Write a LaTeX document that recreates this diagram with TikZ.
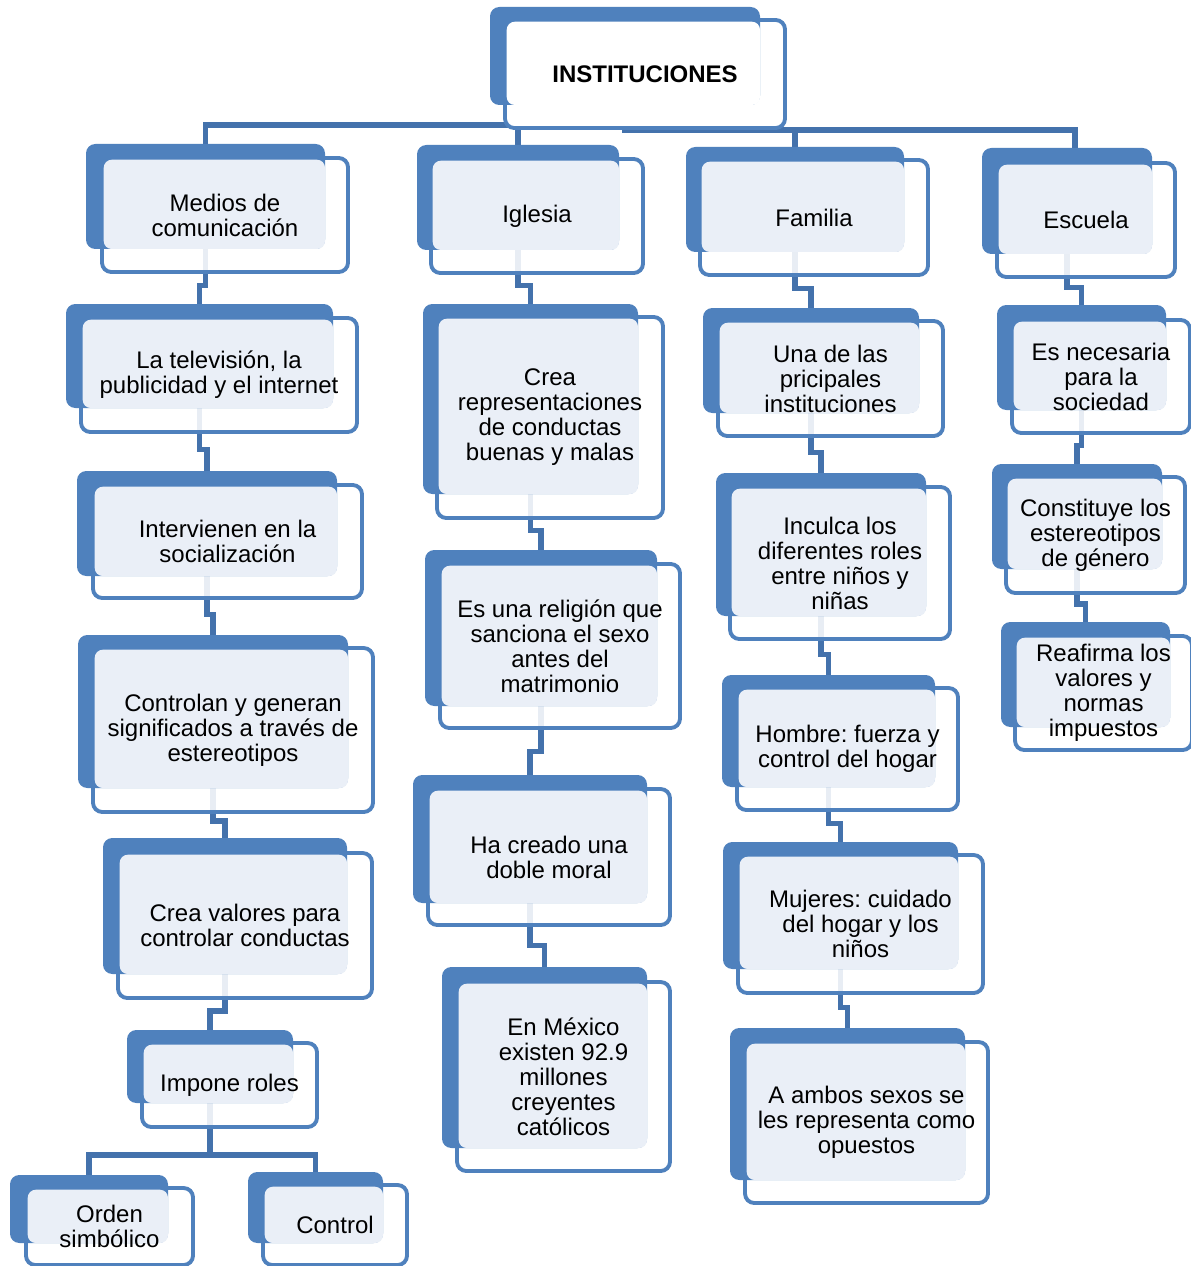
\documentclass[tikz,border=0pt]{standalone}
\usepackage{fontspec}
\setmainfont{Liberation Sans}
\usetikzlibrary{fit,calc}
\definecolor{bblue}{RGB}{79,129,189}
\definecolor{cblue}{RGB}{68,114,172}
\definecolor{lfill}{RGB}{234,239,247}
\pgfdeclarelayer{bg}
\pgfdeclarelayer{mid}
\pgfdeclarelayer{fg}
\pgfsetlayers{bg,mid,main,fg}
\frenchspacing
\tikzset{
  frontbox/.style={draw=bblue, line width=2.9pt, fill=white, fill opacity=0.88, rounded corners=7pt, inner sep=0pt, outer sep=0pt},
  backbox/.style={fill=bblue, draw=none, rounded corners=7pt, inner sep=0pt, outer sep=0pt},
  lightpart/.style={fill=lfill, rounded corners=6pt},
  txt/.style={align=center, font=\fontsize{18pt}{18.75pt}\selectfont, inner sep=0pt, text=black},
  conn/.style={draw=cblue, line width=3.8pt}
}
% name, back x1 y1 x2 y2, front x1 y1 x2 y2
\newcommand\cb[9]{%
  \begin{pgfonlayer}{mid}
    \node[frontbox, fit={(#6,#7)(#8,#9)}] (#1-f) {};
  \end{pgfonlayer}
  \node[backbox, fit={(#2,#3)(#4,#5)}] (#1-b) {};
  \fill[lightpart] ([shift={(1.3pt,-1.3pt)}]#1-f.north west) rectangle (#1-b.south east);
}
\newcommand\ct[2]{%
  \begin{pgfonlayer}{fg}
    \node[txt] (#1-t) at (#1-f.center) {#2};
  \end{pgfonlayer}
}
\newcommand\lk[2]{%
  \begin{pgfonlayer}{bg}
    \draw[conn] (#1-b.south) |- ($(#1-b.south)!0.66!(#2-b.north)$) -| (#2-b.north);
  \end{pgfonlayer}
}
\begin{document}
\begin{tikzpicture}[x=0.75pt,y=-0.75pt]
\begin{pgfonlayer}{bg}
\fill[white] (0,0) rectangle (1190,1266);
\end{pgfonlayer}
\useasboundingbox (0,0) rectangle (1190,1266);

% top
\begin{pgfonlayer}{mid}
  \node[frontbox, fill opacity=1, fit={(505,20)(785,128)}] (top-f) {};
\end{pgfonlayer}
\node[backbox, fit={(490,7)(760,105)}] (top-b) {};
\fill[white, rounded corners=6pt] ([shift={(1.3pt,-1.3pt)}]top-f.north west) rectangle (top-b.south east);
\begin{pgfonlayer}{fg}
  \node[txt, font=\fontsize{18pt}{18.75pt}\selectfont\bfseries] (top-t) at (top-f.center) {INSTITUCIONES};
\end{pgfonlayer}

% column 1
\cb{med}{86}{144}{325}{249}{102}{158}{348}{272}
\ct{med}{Medios de\\comunicación}
\cb{tel}{66}{304}{333}{408}{81}{318}{357}{432}
\ct{tel}{La televisión, la\\publicidad y el internet}
\cb{int}{77}{471}{337}{576}{93}{485}{362}{598}
\ct{int}{Intervienen en la\\socialización}
\cb{con}{78}{635}{348}{788}{93}{648}{373}{812}
\ct{con}{Controlan y generan\\significados a través de\\estereotipos}
\cb{cre}{103}{838}{347}{974}{118}{853}{372}{998}
\ct{cre}{Crea valores para\\controlar conductas}
\cb{imp}{127}{1030}{293}{1103}{142}{1043}{317}{1127}
\ct{imp}{Impone roles}
\cb{ord}{10}{1175}{168}{1243}{26}{1188}{193}{1265}
\ct{ord}{Orden\\simbólico}
\cb{ctl}{248}{1172}{383}{1243}{263}{1185}{407}{1265}
\ct{ctl}{Control}

% column 2
\cb{igl}{417}{145}{619}{250}{431}{159}{643}{273}
\ct{igl}{Iglesia}
\cb{rep}{423}{304}{638}{494}{437}{317}{663}{518}
\ct{rep}{Crea\\representaciones\\de conductas\\buenas y malas}
\cb{rel}{425}{550}{657}{706}{440}{564}{680}{728}
\ct{rel}{Es una religión que\\sanciona el sexo\\antes del\\matrimonio}
\cb{dob}{413}{775}{647}{903}{428}{789}{670}{925}
\ct{dob}{Ha creado una\\doble moral}
\cb{mex}{442}{967}{647}{1148}{457}{982}{670}{1171}
\ct{mex}{En México\\existen 92.9\\millones\\creyentes\\católicos}

% column 3
\cb{fam}{686}{147}{904}{252}{700}{160}{928}{275}
\ct{fam}{Familia}
\cb{una}{703}{308}{919}{413}{718}{321}{943}{436}
\ct{una}{Una de las\\pricipales\\instituciones}
\cb{inc}{716}{473}{926}{616}{730}{487}{950}{639}
\ct{inc}{Inculca los\\diferentes roles\\entre niños y\\niñas}
\cb{hom}{722}{675}{935}{787}{737}{688}{958}{810}
\ct{hom}{Hombre: fuerza y\\control del hogar}
\cb{muj}{723}{842}{958}{969}{738}{855}{983}{993}
\ct{muj}{Mujeres: cuidado\\del hogar y los\\niños}
\cb{amb}{730}{1028}{965}{1180}{745}{1042}{988}{1203}
\ct{amb}{A ambos sexos se\\les representa como\\opuestos}

% column 4
\cb{esc}{982}{148}{1152}{254}{997}{163}{1175}{277}
\ct{esc}{Escuela}
\cb{nec}{997}{305}{1166}{410}{1012}{320}{1190}{433}
\ct{nec}{Es necesaria\\para la\\sociedad}
\cb{cons}{992}{464}{1162}{569}{1006}{477}{1185}{593}
\ct{cons}{Constituye los\\estereotipos\\de género}
\cb{rea}{1001}{622}{1170}{727}{1015}{636}{1192}{750}
\ct{rea}{Reafirma los\\valores y\\normas\\impuestos}

% connectors
\coordinate (hl) at (0,125);
\coordinate (hr) at (0,130);
\coordinate (hi) at (0,1155);
\begin{pgfonlayer}{bg}
\draw[conn] (top-b.south) |- (med-b.north |- hl) -- (med-b.north);
\draw[conn] (top-b.south) |- (igl-b.north |- hl) -- (igl-b.north);
\draw[conn] (top-b.south) |- (fam-b.north |- hr) -- (fam-b.north);
\draw[conn] (top-b.south) |- ([xshift=6pt]esc-b.north |- hr) -- ([xshift=6pt]esc-b.north);
\draw[conn] (imp-b.south) |- (ord-b.north |- hi) -- (ord-b.north);
\draw[conn] (imp-b.south) |- (ctl-b.north |- hi) -- (ctl-b.north);
\end{pgfonlayer}
\lk{med}{tel}
\lk{tel}{int}
\lk{int}{con}
\lk{con}{cre}
\lk{cre}{imp}
\lk{igl}{rep}
\lk{rep}{rel}
\lk{rel}{dob}
\lk{dob}{mex}
\lk{fam}{una}
\lk{una}{inc}
\lk{inc}{hom}
\lk{hom}{muj}
\lk{muj}{amb}
\lk{esc}{nec}
\lk{nec}{cons}
\lk{cons}{rea}
\end{tikzpicture}
\end{document}
